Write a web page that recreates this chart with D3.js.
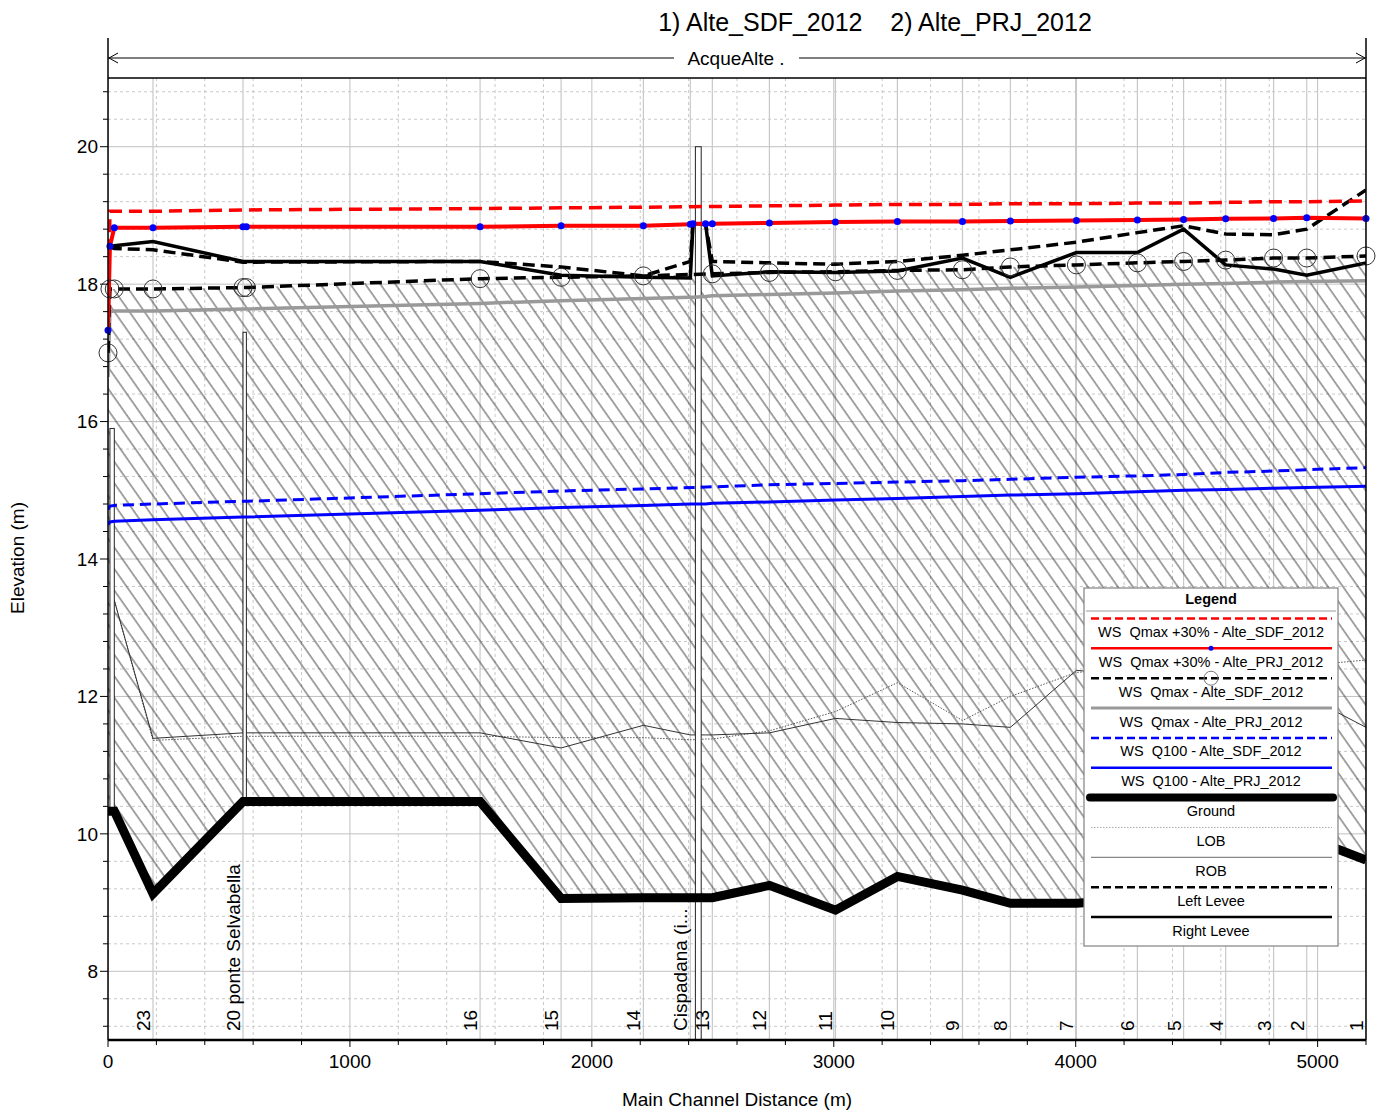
<!DOCTYPE html>
<html>
<head>
<meta charset="utf-8">
<script src="https://cdn.jsdelivr.net/npm/d3@7"></script>
<style>
  body { margin: 0; background: #fff; }
  text { font-family: "Liberation Sans", Arial, sans-serif; fill: #000; }
</style>
</head>
<body>
<svg id="chart" width="1379" height="1110"></svg>
<script>
// ---------------------------------------------------------------
// Longitudinal profile of the AcqueAlte reach, two plans compared
// ---------------------------------------------------------------

// main channel distance (m) of every cross section along the reach
const stations = [0, 8, 26, 186, 558, 572, 1538, 1873, 2213, 2407, 2418, 2470, 2498,
                  2734, 3007, 3263, 3532, 3730, 4003, 4255, 4446, 4620, 4818, 4955, 5200];

// water surface elevations (m); null where a plan has no section
const wsQmax30SDF = [17.30, 19.06, 19.06, 19.06, 19.08, 19.08, 19.10, 19.11, 19.12, null, null, null, 19.13,
                     19.14, 19.15, 19.16, 19.16, 19.17, 19.17, 19.18, 19.18, 19.19, 19.20, 19.20, 19.21];
const wsQmax30PRJ = [17.33, 18.55, 18.82, 18.82, 18.835, 18.835, 18.835, 18.85, 18.85, 18.87, 18.88, 18.88, 18.88,
                     18.89, 18.905, 18.91, 18.91, 18.92, 18.925, 18.935, 18.94, 18.95, 18.955, 18.965, 18.955];
const wsQmaxSDF   = [17.00, 17.93, 17.93, 17.93, 17.95, 17.95, 18.08, 18.10, 18.12, null, null, null, 18.15,
                     18.17, 18.18, 18.20, 18.21, 18.25, 18.28, 18.31, 18.33, 18.35, 18.38, 18.38, 18.41];
const wsQmaxPRJ   = [16.65, 17.60, 17.61, 17.61, 17.64, 17.64, 17.72, 17.76, 17.79, 17.81, 17.81, 17.82, 17.83,
                     17.85, 17.87, 17.90, 17.92, 17.94, 17.96, 17.98, 18.00, 18.01, 18.03, 18.04, 18.05];
const wsQ100SDF   = [14.72, 14.77, 14.78, 14.80, 14.84, 14.84, 14.95, 14.99, 15.02, null, null, null, 15.05,
                     15.08, 15.10, 15.12, 15.14, 15.16, 15.19, 15.21, 15.23, 15.26, 15.28, 15.30, 15.33];
const wsQ100PRJ   = [14.50, 14.54, 14.55, 14.57, 14.61, 14.61, 14.71, 14.75, 14.78, 14.80, 14.80, 14.80, 14.81,
                     14.83, 14.86, 14.88, 14.91, 14.93, 14.95, 14.98, 15.00, 15.01, 15.03, 15.04, 15.06];

// channel geometry (m)
const ground      = [10.33, 10.33, 10.33, 9.13, 10.47, 10.47, 10.47, 9.06, 9.07, 9.07, 9.07, 9.07, 9.07,
                     9.25, 8.89, 9.38, 9.18, 8.99, 8.99, 9.05, 9.30, 9.20, 9.50, 9.95, 9.62];
const lob         = [null, 13.40, 13.40, 11.36, 11.42, 11.42, 11.42, 11.40, 11.40, 11.37, 11.37, 11.38, 11.38,
                     11.50, 11.78, 12.20, 11.65, 12.00, 12.35, 12.40, 12.30, 12.50, 12.45, 12.45, 12.53];
const rob         = [null, 13.40, 13.40, 11.39, 11.47, 11.47, 11.47, 11.25, 11.58, 11.44, 11.44, 11.44, 11.44,
                     11.47, 11.68, 11.62, 11.60, 11.55, 12.38, 12.30, 12.10, 12.20, 12.00, 12.00, 11.55];
const leftLevee   = [null, 18.54, 18.52, 18.50, 18.32, 18.32, 18.33, 18.25, 18.12, 18.33, 18.88, 18.88, 18.33,
                     18.31, 18.29, 18.33, 18.42, 18.50, 18.61, 18.75, 18.85, 18.73, 18.72, 18.80, 19.37];
const rightLevee  = [null, 18.54, 18.56, 18.62, 18.33, 18.33, 18.33, 18.13, 18.10, 18.09, 18.88, 18.88, 18.12,
                     18.18, 18.17, 18.19, 18.38, 18.10, 18.46, 18.46, 18.80, 18.28, 18.22, 18.13, 18.31];

// structures: [upstream station, downstream station, top elevation, bottom elevation]
const culvert     = [8, 26, 15.90, 10.33];
const ponteSelvabella = [558, 572, 17.30, 10.47];
const ponteCispadana  = [2428, 2452, 20.00, 7.00];

// cross section labels along the bottom
const xsLabelText    = ["23", "20 ponte Selvabella", "16", "15", "14", "Cispadana (i...", "13", "12", "11", "10",
                        "9", "8", "7", "6", "5", "4", "3", "2", "1"];
const xsLabelStation = [186, 558, 1538, 1873, 2213, 2407, 2498, 2734, 3007, 3263,
                        3532, 3730, 4003, 4255, 4446, 4620, 4818, 4955, 5200];

// axis ticks
const xMajorTicks = [0, 1000, 2000, 3000, 4000, 5000];
const yMajorTicks = [8, 10, 12, 14, 16, 18, 20];

const legendLabels = ["WS  Qmax +30% - Alte_SDF_2012", "WS  Qmax +30% - Alte_PRJ_2012",
                      "WS  Qmax - Alte_SDF_2012", "WS  Qmax - Alte_PRJ_2012",
                      "WS  Q100 - Alte_SDF_2012", "WS  Q100 - Alte_PRJ_2012",
                      "Ground", "LOB", "ROB", "Left Levee", "Right Levee"];

// ---------------------------------------------------------------
const svg = d3.select("#chart");
const plot = { left: 108, right: 1366, top: 78, bottom: 1040 };
const x = d3.scaleLinear().domain([0, 5200]).range([plot.left, plot.right]);
const y = d3.scaleLinear().domain([7, 21]).range([plot.bottom, plot.top]);

const pts = vals => stations.map((s, i) => [s, vals[i]]).filter(d => d[1] != null);
const line = d3.line().x(d => x(d[0])).y(d => y(d[1]));

svg.append("rect").attr("width", 1379).attr("height", 1110).attr("fill", "#fff");

const defs = svg.append("defs");
defs.append("clipPath").attr("id", "plotClip")
  .append("rect")
  .attr("x", plot.left).attr("y", plot.top)
  .attr("width", plot.right - plot.left).attr("height", plot.bottom - plot.top);

// diagonal hatch used for the flow area
const hatch = defs.append("pattern").attr("id", "hatch")
  .attr("patternUnits", "userSpaceOnUse")
  .attr("width", 12.3).attr("height", 10)
  .attr("patternTransform", "rotate(-35)");
hatch.append("line").attr("x1", 1).attr("y1", -2).attr("x2", 1).attr("y2", 12)
  .attr("stroke", "#303030").attr("stroke-width", 0.9);

const g = svg.append("g").attr("clip-path", "url(#plotClip)");

// ---- grid ----
const yMinor = d3.range(-2, 33).map(k => 8 + 0.4 * k).filter(v => v > 7 && v < 21 && Math.abs(v / 2 - Math.round(v / 2)) > 0.01);
const xMinor = d3.range(0, 5201, 200).filter(v => v % 1000 !== 0);

g.selectAll(".ygm").data(yMinor).join("line")
  .attr("x1", plot.left).attr("x2", plot.right)
  .attr("y1", d => y(d)).attr("y2", d => y(d))
  .attr("stroke", "#c8c8c8").attr("stroke-width", 1).attr("stroke-dasharray", "3,3");
g.selectAll(".xgm").data(xMinor).join("line")
  .attr("y1", plot.top).attr("y2", plot.bottom)
  .attr("x1", d => x(d)).attr("x2", d => x(d))
  .attr("stroke", "#c8c8c8").attr("stroke-width", 1).attr("stroke-dasharray", "3,3");
g.selectAll(".ygM").data(yMajorTicks).join("line")
  .attr("x1", plot.left).attr("x2", plot.right)
  .attr("y1", d => y(d)).attr("y2", d => y(d))
  .attr("stroke", "#c0c0c0").attr("stroke-width", 1);
g.selectAll(".xgM").data(xMajorTicks).join("line")
  .attr("y1", plot.top).attr("y2", plot.bottom)
  .attr("x1", d => x(d)).attr("x2", d => x(d))
  .attr("stroke", "#c0c0c0").attr("stroke-width", 1);
g.selectAll(".xsl").data(xsLabelStation).join("line")
  .attr("y1", plot.top).attr("y2", plot.bottom)
  .attr("x1", d => x(d)).attr("x2", d => x(d))
  .attr("stroke", "#c8c8c8").attr("stroke-width", 1.2);

// ---- hatched water body between ground and WS Qmax of the existing state ----
const wsTop = pts(wsQmaxSDF);
const groundPts = pts(ground);
g.append("path")
  .attr("d", line(wsTop.concat(groundPts.slice().reverse())) + "Z")
  .attr("fill", "url(#hatch)").attr("stroke", "none");

// ---- bank stations ----
g.append("path").attr("d", line(pts(lob)))
  .attr("fill", "none").attr("stroke", "#555").attr("stroke-width", 1).attr("stroke-dasharray", "1.5,1.5");
g.append("path").attr("d", line(pts(rob)))
  .attr("fill", "none").attr("stroke", "#333").attr("stroke-width", 1);

// ---- structures ----
[culvert, ponteSelvabella, ponteCispadana].forEach(s => {
  g.append("rect")
    .attr("x", x(s[0])).attr("width", x(s[1]) - x(s[0]))
    .attr("y", y(s[2])).attr("height", y(s[3]) - y(s[2]))
    .attr("fill", "#fff").attr("stroke", "#222").attr("stroke-width", 1);
});

// ---- ground ----
g.append("path").attr("d", line(groundPts))
  .attr("fill", "none").attr("stroke", "#000").attr("stroke-width", 9)
  .attr("stroke-linejoin", "miter").attr("stroke-linecap", "butt");

// ---- water surfaces ----
g.append("path").attr("d", line(pts(wsQ100PRJ)))
  .attr("fill", "none").attr("stroke", "#0000ff").attr("stroke-width", 3);
g.append("path").attr("d", line(pts(wsQ100SDF)))
  .attr("fill", "none").attr("stroke", "#0000ff").attr("stroke-width", 3).attr("stroke-dasharray", "11,6");
g.append("path").attr("d", line(pts(wsQmaxPRJ)))
  .attr("fill", "none").attr("stroke", "#999").attr("stroke-width", 3.5);
g.append("path").attr("d", line(pts(wsQmaxSDF)))
  .attr("fill", "none").attr("stroke", "#000").attr("stroke-width", 3.5).attr("stroke-dasharray", "12,6");

// ---- levees ----
g.append("path").attr("d", line(pts(leftLevee)))
  .attr("fill", "none").attr("stroke", "#000").attr("stroke-width", 3.5).attr("stroke-dasharray", "12,6");
g.append("path").attr("d", line(pts(rightLevee)))
  .attr("fill", "none").attr("stroke", "#000").attr("stroke-width", 3.5);

// ---- Qmax +30% ----
g.append("path").attr("d", line(pts(wsQmax30SDF)))
  .attr("fill", "none").attr("stroke", "#ff0000").attr("stroke-width", 3.5).attr("stroke-dasharray", "13,7");
g.append("path").attr("d", line(pts(wsQmax30PRJ)))
  .attr("fill", "none").attr("stroke", "#ff0000").attr("stroke-width", 4);

// section markers are not clipped at the plot edges
svg.selectAll(".circ").data(pts(wsQmaxSDF)).join("circle")
  .attr("cx", d => x(d[0])).attr("cy", d => y(d[1])).attr("r", 9)
  .attr("fill", "none").attr("stroke", "#333").attr("stroke-width", 1);
svg.selectAll(".dot").data(pts(wsQmax30PRJ)).join("circle")
  .attr("cx", d => x(d[0])).attr("cy", d => y(d[1])).attr("r", 3.5)
  .attr("fill", "#0000ff");

// ---- frame and axes ----
svg.append("line").attr("x1", plot.left).attr("x2", plot.right).attr("y1", plot.top).attr("y2", plot.top)
  .attr("stroke", "#000").attr("stroke-width", 1.5);
svg.append("line").attr("x1", plot.left).attr("x2", plot.right).attr("y1", plot.bottom).attr("y2", plot.bottom)
  .attr("stroke", "#000").attr("stroke-width", 2.5);
svg.append("line").attr("x1", plot.left).attr("x2", plot.left).attr("y1", 38).attr("y2", plot.bottom)
  .attr("stroke", "#000").attr("stroke-width", 1.5);
svg.append("line").attr("x1", plot.right).attr("x2", plot.right).attr("y1", 38).attr("y2", plot.bottom)
  .attr("stroke", "#000").attr("stroke-width", 1.5);

// y ticks
svg.selectAll(".ytM").data(yMajorTicks).join("line")
  .attr("x1", plot.left - 8).attr("x2", plot.left).attr("y1", d => y(d)).attr("y2", d => y(d))
  .attr("stroke", "#000").attr("stroke-width", 1);
svg.selectAll(".ytm").data(yMinor).join("line")
  .attr("x1", plot.left - 5).attr("x2", plot.left).attr("y1", d => y(d)).attr("y2", d => y(d))
  .attr("stroke", "#000").attr("stroke-width", 1);
svg.selectAll(".ytl").data(yMajorTicks).join("text")
  .attr("x", plot.left - 10).attr("y", d => y(d)).attr("dy", "0.35em")
  .attr("text-anchor", "end").attr("font-size", 19).text(d => d);

// x ticks
svg.selectAll(".xtM").data(xMajorTicks).join("line")
  .attr("x1", d => x(d)).attr("x2", d => x(d)).attr("y1", plot.bottom).attr("y2", plot.bottom + 7)
  .attr("stroke", "#000").attr("stroke-width", 1);
svg.selectAll(".xtm").data(xMinor).join("line")
  .attr("x1", d => x(d)).attr("x2", d => x(d)).attr("y1", plot.bottom).attr("y2", plot.bottom + 5)
  .attr("stroke", "#000").attr("stroke-width", 1);
svg.selectAll(".xtl").data(xMajorTicks).join("text")
  .attr("x", d => x(d)).attr("y", plot.bottom + 28)
  .attr("text-anchor", "middle").attr("font-size", 19).text(d => d);

// axis titles
svg.append("text").attr("x", 737).attr("y", 1106).attr("text-anchor", "middle")
  .attr("font-size", 19).text("Main Channel Distance (m)");
svg.append("text").attr("transform", "translate(24,558) rotate(-90)").attr("text-anchor", "middle")
  .attr("font-size", 19).text("Elevation (m)");

// cross section labels
svg.selectAll(".xslab").data(xsLabelStation).join("text")
  .attr("transform", d => `translate(${x(d) - 3},${plot.bottom - 9}) rotate(-90)`)
  .attr("text-anchor", "start").attr("font-size", 19)
  .text((d, i) => xsLabelText[i]);

// ---- reach banner ----
svg.append("line").attr("x1", plot.left).attr("x2", plot.right).attr("y1", 58).attr("y2", 58)
  .attr("stroke", "#000").attr("stroke-width", 1);
svg.append("rect").attr("x", 674).attr("y", 48).attr("width", 125).attr("height", 20).attr("fill", "#fff");
svg.append("text").attr("x", 736).attr("y", 65).attr("text-anchor", "middle").attr("font-size", 19).text("AcqueAlte .");
svg.append("path").attr("d", `M${plot.left + 10},53 L${plot.left + 1},58 L${plot.left + 10},63`)
  .attr("fill", "none").attr("stroke", "#000").attr("stroke-width", 1);
svg.append("path").attr("d", `M${plot.right - 10},53 L${plot.right - 1},58 L${plot.right - 10},63`)
  .attr("fill", "none").attr("stroke", "#000").attr("stroke-width", 1);

// plan title
svg.append("text").attr("x", 875).attr("y", 31).attr("text-anchor", "middle").attr("font-size", 25)
  .style("white-space", "pre").text("1) Alte_SDF_2012    2) Alte_PRJ_2012");

// ---- legend ----
const lg = svg.append("g");
const lgX0 = 1084, lgX1 = 1338, lgY0 = 588, lgY1 = 946;
lg.append("rect").attr("x", lgX0).attr("y", lgY0).attr("width", lgX1 - lgX0).attr("height", lgY1 - lgY0)
  .attr("fill", "#fff").attr("stroke", "#808080").attr("stroke-width", 1.2);
lg.append("text").attr("x", (lgX0 + lgX1) / 2).attr("y", 604).attr("text-anchor", "middle")
  .attr("font-size", 14.5).attr("font-weight", "bold").text("Legend");
lg.append("line").attr("x1", lgX0 + 2).attr("x2", lgX1 - 2).attr("y1", 611).attr("y2", 611)
  .attr("stroke", "#999").attr("stroke-width", 1);

const legendStyles = [
  { stroke: "#ff0000", width: 2.5, dash: "8,4" },
  { stroke: "#ff0000", width: 2.5, dash: null, dot: true },
  { stroke: "#000", width: 2.5, dash: "8,4", ring: true },
  { stroke: "#999", width: 3, dash: null },
  { stroke: "#0000ff", width: 2.5, dash: "8,4" },
  { stroke: "#0000ff", width: 2.5, dash: null },
  { stroke: "#000", width: 8, dash: null, cap: "round" },
  { stroke: "#aaa", width: 1, dash: "1.5,1.5" },
  { stroke: "#888", width: 1.2, dash: null },
  { stroke: "#000", width: 2.5, dash: "8,4" },
  { stroke: "#000", width: 2.5, dash: null }
];
const lgStep = 29.85, lgFirst = 618.5;
legendLabels.forEach((lab, i) => {
  const ly = lgFirst + i * lgStep;
  const st = legendStyles[i];
  const ln = lg.append("line")
    .attr("x1", st.cap ? 1090 : 1091).attr("x2", st.cap ? 1333 : 1332)
    .attr("y1", ly).attr("y2", ly)
    .attr("stroke", st.stroke).attr("stroke-width", st.width)
    .attr("stroke-linecap", st.cap || "butt");
  if (st.dash) ln.attr("stroke-dasharray", st.dash);
  if (st.dot) lg.append("circle").attr("cx", 1211).attr("cy", ly).attr("r", 2.5).attr("fill", "#0000ff");
  if (st.ring) lg.append("circle").attr("cx", 1211).attr("cy", ly).attr("r", 7)
    .attr("fill", "none").attr("stroke", "#777").attr("stroke-width", 1);
  lg.append("text").attr("x", 1211).attr("y", ly + 18.5).attr("text-anchor", "middle")
    .attr("font-size", 14.5).style("white-space", "pre").text(lab);
});
</script>
</body>
</html>
